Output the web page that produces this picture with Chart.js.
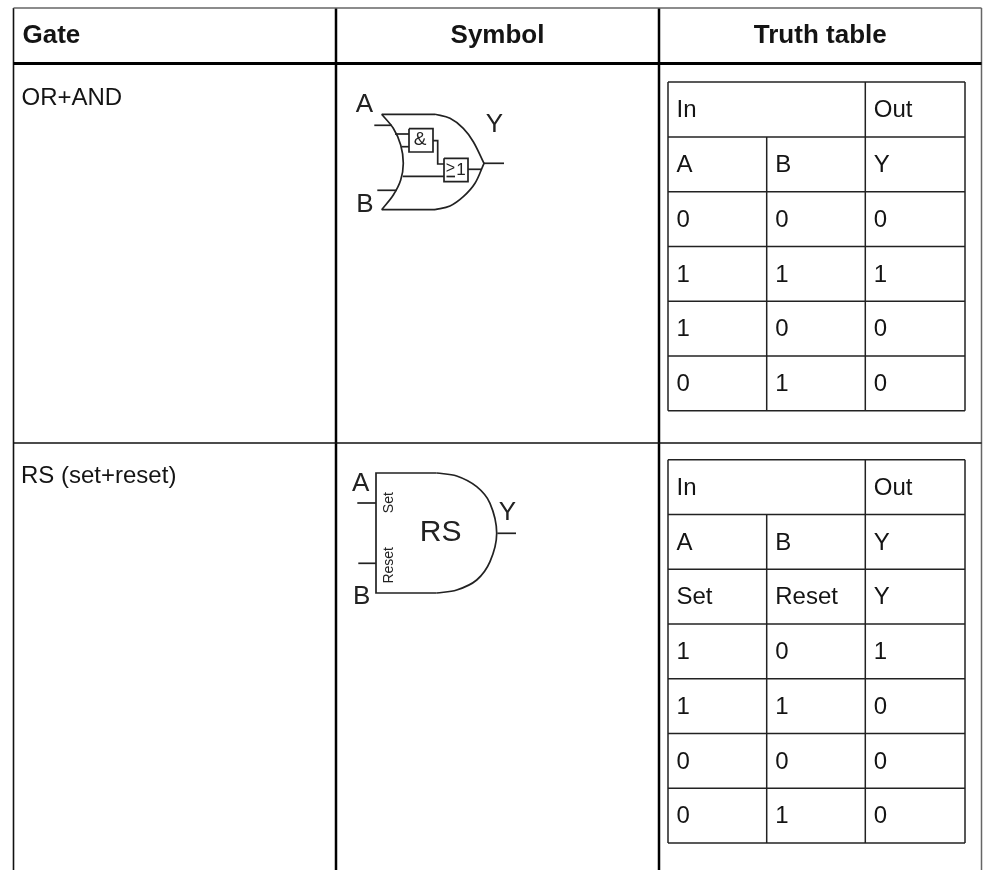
<!DOCTYPE html>
<html>
<head>
<meta charset="utf-8">
<title>Logic gates</title>
<script src="https://cdn.jsdelivr.net/npm/chart.js@4/dist/chart.umd.min.js"></script>
<style>
  html, body { margin: 0; padding: 0; background: #fff; }
  canvas { display: block; }
</style>
</head>
<body>
<canvas id="chart" width="987" height="870"></canvas>
<script>
// table content
const HEADERS = ['Gate', 'Symbol', 'Truth table'];
const GATE_NAMES = ['OR+AND', 'RS (set+reset)'];
const TRUTH_OR_AND = [
    ['In', '', 'Out'],
    ['A', 'B', 'Y'],
    ['0', '0', '0'],
    ['1', '1', '1'],
    ['1', '0', '0'],
    ['0', '1', '0'],
];
const TRUTH_RS = [
    ['In', '', 'Out'],
    ['A', 'B', 'Y'],
    ['Set', 'Reset', 'Y'],
    ['1', '0', '1'],
    ['1', '1', '0'],
    ['0', '0', '0'],
    ['0', '1', '0'],
];

// table rules (the axes run in picture units)
const COL_EDGES   = [13.5, 336, 659, 981.5];
const ROW_EDGES   = [8, 63.5, 443, 872];
const INNER_COLS  = [668, 766.7, 865.3, 965];
const INNER_ROWS_1 = [82, 137, 191.7, 246.5, 301.3, 356, 410.8];
const INNER_ROWS_2 = [459.8, 514.6, 569.3, 624, 678.8, 733.5, 788.3, 843];

// gate outlines
const OR_FRONT_TOP = [[435, 114.3], [450, 118.3], [463.3, 128.3], [473.3, 141.7], [484, 163.3]];
const OR_FRONT_BOT = [[484, 163.3], [475, 183.3], [463.3, 196.7], [450, 206], [435, 209.7]];
const OR_BACK      = [[381.7, 114.3], [393.3, 128.3], [400.7, 145], [403.3, 163.3], [400.7, 180], [393.3, 195], [381.7, 209.7]];
const OR_EDGES = [
    [[381.7, 114.3], [435, 114.3]], [[381.7, 209.7], [435, 209.7]],
    [[374.3, 125.3], [391.7, 125.3]], [[377.3, 190.3], [396.7, 190.3]], [[483.3, 163.3], [504, 163.3]],
    [[395, 134], [409, 134]], [[401.7, 146.7], [409, 146.7]],
    [[433, 140.7], [437.7, 140.7], [437.7, 164], [444, 164]],
    [[402.7, 176.3], [444, 176.3]], [[468, 169.3], [481.7, 169.3]],
    [[409, 128.7], [433, 128.7], [433, 152], [409, 152], [409, 128.7]],
    [[444, 158.3], [468, 158.3], [468, 181.7], [444, 181.7], [444, 158.3]],
    [[446.5, 176.5], [455, 176.5]],
];
const RS_FRONT = [[436.7, 473], [456.7, 476], [476.7, 486.7], [490, 503.3], [496.7, 533.3], [490, 561.7], [476.7, 580], [456.7, 590], [436.7, 593]];
const RS_EDGES = [
    [[436.7, 473], [376, 473], [376, 593], [436.7, 593]],
    [[357.3, 503], [376, 503]], [[358.3, 563.3], [376, 563.3]], [[497.3, 533.3], [516, 533.3]],
];

// symbol labels: text, x, y, font size, rotation
const SYMBOL_LABELS = [
    ['A', 364.5, 104.5, 26, 0], ['B', 365, 205, 26, 0], ['Y', 494.5, 124.5, 26, 0],
    ['&', 420, 139.5, 19, 0], ['>', 450.5, 169, 16, 0], ['1', 461, 170, 17, 0],
    ['A', 360.7, 483.5, 26, 0], ['B', 361.7, 597, 26, 0], ['Y', 507.5, 513, 26, 0],
    ['RS', 440.7, 533, 30, 0], ['Set', 389, 502.7, 14, -90], ['Reset', 389, 565.3, 14, -90],
];

const FONT = '"Liberation Sans", Arial, sans-serif';
const TEXT_COLOR = '#141414';
const GATE_STROKE = 1.7;

function rule(points, width, color, tension) {
    return {
        data: points.map(p => ({ x: p[0], y: p[1] })),
        showLine: true,
        fill: false,
        borderColor: color,
        borderWidth: width,
        borderCapStyle: 'butt',
        borderJoinStyle: 'miter',
        tension: tension || 0,
        pointRadius: 0,
    };
}

function gridDatasets(colEdges, rowEdges) {
    const out = [];
    const last = rowEdges[rowEdges.length - 1];
    rowEdges.forEach(y => out.push(rule([[colEdges[0], y], [colEdges[3], y]], 1.5, '#222')));
    // "In" spans the first two columns, so the first inner column stops at row 1
    out.push(rule([[colEdges[1], rowEdges[1]], [colEdges[1], last]], 1.5, '#222'));
    out.push(rule([[colEdges[2], rowEdges[0]], [colEdges[2], last]], 1.5, '#222'));
    out.push(rule([[colEdges[0], rowEdges[0]], [colEdges[0], last]], 1.5, '#222'));
    out.push(rule([[colEdges[3], rowEdges[0]], [colEdges[3], last]], 1.5, '#222'));
    return out;
}

const datasets = [
    // outer table
    rule([[COL_EDGES[0], ROW_EDGES[0]], [COL_EDGES[3], ROW_EDGES[0]]], 1.5, '#666'),
    rule([[COL_EDGES[0], ROW_EDGES[1]], [COL_EDGES[3], ROW_EDGES[1]]], 3, '#000'),
    rule([[COL_EDGES[0], ROW_EDGES[2]], [COL_EDGES[3], ROW_EDGES[2]]], 1.5, '#111'),
    rule([[COL_EDGES[0], ROW_EDGES[0]], [COL_EDGES[0], ROW_EDGES[3]]], 1.6, '#111'),
    rule([[COL_EDGES[1], ROW_EDGES[0]], [COL_EDGES[1], ROW_EDGES[3]]], 2.5, '#000'),
    rule([[COL_EDGES[2], ROW_EDGES[0]], [COL_EDGES[2], ROW_EDGES[3]]], 2.5, '#000'),
    rule([[COL_EDGES[3], ROW_EDGES[0]], [COL_EDGES[3], ROW_EDGES[3]]], 1.5, '#666'),
    // inner tables
    ...gridDatasets(INNER_COLS, INNER_ROWS_1),
    ...gridDatasets(INNER_COLS, INNER_ROWS_2),
    // gate symbols
    rule(OR_FRONT_TOP, GATE_STROKE, '#222', 0.35),
    rule(OR_FRONT_BOT, GATE_STROKE, '#222', 0.35),
    rule(OR_BACK, GATE_STROKE, '#222', 0.35),
    ...OR_EDGES.map(p => rule(p, GATE_STROKE, '#222')),
    rule(RS_FRONT, GATE_STROKE, '#222', 0.35),
    ...RS_EDGES.map(p => rule(p, GATE_STROKE, '#222')),
];

// text cells go through the chart's own scales
const tableText = {
    id: 'tableText',
    afterDatasetsDraw(chart) {
        const { ctx, scales: { x, y } } = chart;
        const put = (str, px, py, font, align, color) => {
            ctx.font = font;
            ctx.textAlign = align;
            ctx.textBaseline = 'alphabetic';
            ctx.fillStyle = color || TEXT_COLOR;
            ctx.fillText(str, x.getPixelForValue(px), y.getPixelForValue(py));
        };
        ctx.save();
        put(HEADERS[0], 22.5, 43, 'bold 26px ' + FONT, 'left');
        put(HEADERS[1], (COL_EDGES[1] + COL_EDGES[2]) / 2, 43, 'bold 26px ' + FONT, 'center');
        put(HEADERS[2], (COL_EDGES[2] + COL_EDGES[3]) / 2, 43, 'bold 26px ' + FONT, 'center');
        put(GATE_NAMES[0], 21.5, 105, '24px ' + FONT, 'left');
        put(GATE_NAMES[1], 21, 483, '24px ' + FONT, 'left');

        const cells = (rows, edges) => rows.forEach((row, r) => row.forEach((str, c) => {
            if (str) put(str, INNER_COLS[c] + 8.5, edges[r] + 35, '24px ' + FONT, 'left');
        }));
        cells(TRUTH_OR_AND, INNER_ROWS_1);
        cells(TRUTH_RS, INNER_ROWS_2);

        SYMBOL_LABELS.forEach(([str, px, py, size, rot]) => {
            ctx.save();
            ctx.translate(x.getPixelForValue(px), y.getPixelForValue(py));
            ctx.rotate(rot * Math.PI / 180);
            ctx.font = size + 'px ' + FONT;
            ctx.textAlign = 'center';
            ctx.textBaseline = 'middle';
            ctx.fillStyle = '#222';
            ctx.fillText(str, 0, 0);
            ctx.restore();
        });
        ctx.restore();
    },
};

new Chart(document.getElementById('chart'), {
    type: 'scatter',
    data: { datasets },
    options: {
        responsive: false,
        animation: false,
        layout: { padding: 0 },
        plugins: { legend: { display: false }, tooltip: { enabled: false }, title: { display: false } },
        scales: {
            x: { type: 'linear', min: 0, max: 987, display: false },
            y: { type: 'linear', min: 0, max: 870, reverse: true, display: false },
        },
    },
    plugins: [tableText],
});
</script>
</body>
</html>
